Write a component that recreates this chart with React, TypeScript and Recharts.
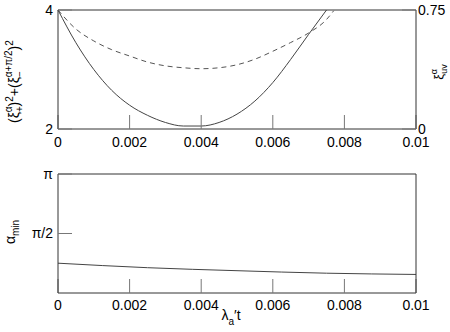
import React from 'react';
import { ComposedChart, Line, XAxis, YAxis, Label } from 'recharts';

// top panel, solid curve (left axis)
const solidT = [0, 0.0005, 0.001, 0.0015, 0.002, 0.0025, 0.003, 0.0035, 0.004, 0.0045, 0.005, 0.0055, 0.006, 0.0065, 0.007, 0.0075];
const solidY = [4.0, 3.45, 3.0, 2.65, 2.4, 2.23, 2.11, 2.05, 2.05, 2.11, 2.25, 2.47, 2.78, 3.17, 3.59, 4.0];

// top panel, dashed curve (right axis)
const dashT = [0, 0.0005, 0.001, 0.0015, 0.002, 0.0025, 0.003, 0.0035, 0.004, 0.0045, 0.005, 0.0055, 0.006, 0.0065, 0.007, 0.0075, 0.0077];
const dashY = [0.75, 0.63, 0.555, 0.5, 0.46, 0.422, 0.398, 0.386, 0.38, 0.386, 0.405, 0.44, 0.49, 0.545, 0.605, 0.69, 0.745];

// bottom panel, alpha_min
const alphaT = [0, 0.0025, 0.005, 0.0075, 0.01];
const alphaY = [0.787, 0.668, 0.589, 0.523, 0.49];

const xTicks = [0, 0.002, 0.004, 0.006, 0.008, 0.01];
const leftTicks = [2, 4];
const rightTicks = [0, 0.75];
const angleTicks = [Math.PI / 2, Math.PI];

const solidData = solidT.map((t, i) => ({ t, v: solidY[i] }));
const dashData = dashT.map((t, i) => ({ t, v: dashY[i] }));
const alphaData = alphaT.map((t, i) => ({ t, v: alphaY[i] }));

const FONT = '"Liberation Sans", Arial, sans-serif';
const AXIS = '#333';
const tickLine = { stroke: '#777', strokeWidth: 1 };
const tickStyle = { fontSize: 14, fill: '#000', fontFamily: FONT };

const angleLabel = (v: number) => (Math.abs(v - Math.PI) < 1e-6 ? 'π' : 'π/2');
const noLabel = () => '';

const LeftTitleTop = () => (
    <text transform="translate(19,123) rotate(-90)" textAnchor="start" fontSize={14} fontFamily={FONT} fill="#000">
        <tspan>(ξ</tspan>
        <tspan fontSize={10} dy={4}>+</tspan>
        <tspan fontSize={10} dx={-6} dy={-11}>α</tspan>
        <tspan dy={7}>)</tspan>
        <tspan fontSize={10} dy={-6}>2</tspan>
        <tspan dy={6}>+(ξ</tspan>
        <tspan fontSize={10} dy={4}>−</tspan>
        <tspan fontSize={10} dx={-6} dy={-11}>α+π/2</tspan>
        <tspan dy={7}>)</tspan>
        <tspan fontSize={10} dy={-6}>2</tspan>
    </text>
);

const RightTitleTop = () => (
    <text transform="translate(443,72) rotate(-90)" textAnchor="middle" fontSize={13} fontFamily={FONT} fill="#000">
        <tspan>ξ</tspan>
        <tspan fontSize={9} dy={4}>uv</tspan>
        <tspan fontSize={9} dx={-10} dy={-10}>α</tspan>
    </text>
);

const LeftTitleBottom = () => (
    <text transform="translate(15,68) rotate(-90)" textAnchor="middle" fontSize={14} fontFamily={FONT} fill="#000">
        <tspan>α</tspan>
        <tspan fontSize={10} dy={4}>min</tspan>
    </text>
);

const XTitleBottom = () => (
    <text x={231} y={156} textAnchor="middle" fontSize={14} fontFamily={FONT} fill="#000">
        <tspan>λ</tspan>
        <tspan fontSize={10} dy={5}>a</tspan>
        <tspan dy={-5}>′t</tspan>
    </text>
);

export default function App() {
    return (
        <div style={{ position: 'absolute', left: 0, top: 0, width: 450, height: 332, background: '#fff' }}>
            <div style={{ position: 'absolute', left: 0, top: 0 }}>
                <ComposedChart width={450} height={160} margin={{ top: 9, right: 0, left: 0, bottom: 0 }}>
                    <XAxis
                        xAxisId="b" dataKey="t" type="number" domain={[0, 0.01]} ticks={xTicks}
                        height={31} tickSize={-14} tickMargin={22} interval={0}
                        tick={tickStyle} tickFormatter={(v) => String(v)}
                        axisLine={{ stroke: AXIS }} tickLine={tickLine}
                    />
                    <XAxis
                        xAxisId="top" dataKey="t" type="number" orientation="top" domain={[0, 0.01]} ticks={xTicks}
                        height={1} tickSize={-14} tickMargin={0} interval={0}
                        tick={tickStyle} tickFormatter={noLabel}
                        axisLine={{ stroke: AXIS }} tickLine={tickLine}
                    />
                    <YAxis
                        yAxisId="l" type="number" domain={[2, 4]} ticks={leftTicks} width={58}
                        tickSize={-14} tickMargin={19} interval={0} tick={tickStyle} allowDataOverflow
                        axisLine={{ stroke: AXIS }} tickLine={tickLine}
                    >
                        <Label content={<LeftTitleTop />} />
                    </YAxis>
                    <YAxis
                        yAxisId="r" orientation="right" type="number" domain={[0, 0.75]} ticks={rightTicks} width={34}
                        tickSize={-14} tickMargin={16} interval={0} tick={tickStyle} allowDataOverflow
                        axisLine={{ stroke: AXIS }} tickLine={tickLine}
                    >
                        <Label content={<RightTitleTop />} />
                    </YAxis>
                    <Line xAxisId="b" yAxisId="l" data={solidData} dataKey="v" type="monotone" stroke="#444" strokeWidth={1} dot={false} isAnimationActive={false} />
                    <Line xAxisId="b" yAxisId="r" data={dashData} dataKey="v" type="monotone" stroke="#555" strokeWidth={1} strokeDasharray="5 4" dot={false} isAnimationActive={false} />
                </ComposedChart>
            </div>
            <div style={{ position: 'absolute', left: 0, top: 164 }}>
                <ComposedChart width={450} height={168} margin={{ top: 9, right: 0, left: 0, bottom: 0 }}>
                    <XAxis
                        xAxisId="b" dataKey="t" type="number" domain={[0, 0.01]} ticks={xTicks}
                        height={39} tickSize={-14} tickMargin={21} interval={0}
                        tick={tickStyle} tickFormatter={(v) => String(v)}
                        axisLine={{ stroke: AXIS }} tickLine={tickLine}
                    >
                        <Label content={<XTitleBottom />} />
                    </XAxis>
                    <XAxis
                        xAxisId="top" dataKey="t" type="number" orientation="top" domain={[0, 0.01]} ticks={xTicks}
                        height={1} tickSize={-14} tickMargin={0} interval={0}
                        tick={tickStyle} tickFormatter={noLabel}
                        axisLine={{ stroke: AXIS }} tickLine={tickLine}
                    />
                    <YAxis
                        yAxisId="l" type="number" domain={[0, Math.PI]} ticks={angleTicks} width={58}
                        tickSize={-14} tickMargin={19} interval={0} tick={tickStyle} tickFormatter={angleLabel}
                        axisLine={{ stroke: AXIS }} tickLine={tickLine}
                    >
                        <Label content={<LeftTitleBottom />} />
                    </YAxis>
                    <YAxis
                        yAxisId="r" orientation="right" type="number" domain={[0, Math.PI]} ticks={angleTicks} width={34}
                        tickSize={-14} tickMargin={17} interval={0} tick={tickStyle} tickFormatter={angleLabel}
                        axisLine={{ stroke: AXIS }} tickLine={tickLine}
                    />
                    <Line xAxisId="b" yAxisId="l" data={alphaData} dataKey="v" type="monotone" stroke="#444" strokeWidth={1} dot={false} isAnimationActive={false} />
                </ComposedChart>
            </div>
        </div>
    );
}
